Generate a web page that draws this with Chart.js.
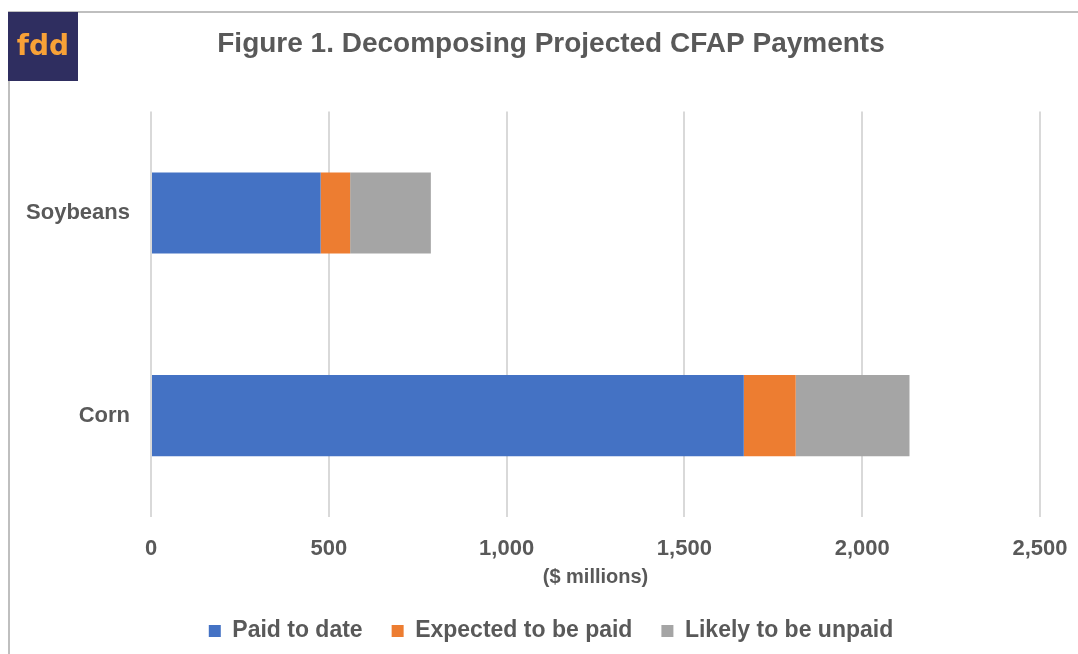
<!DOCTYPE html>
<html>
<head>
<meta charset="utf-8">
<script src="https://cdn.jsdelivr.net/npm/chart.js@4"></script>
<style>
  html, body { margin: 0; padding: 0; background: #ffffff; }
  #wrap { position: absolute; left: 0; top: 0; width: 1078px; height: 654px; }
</style>
</head>
<body>
<div id="wrap"><canvas id="c" width="1078" height="654"></canvas></div>
<script>
// ---- data ----
const categories = ["Soybeans", "Corn"];
const seriesNames = ["Paid to date", "Expected to be paid", "Likely to be unpaid"];
const paidToDate = [477, 1667];
const expectedToBePaid = [83, 146];
const likelyUnpaid = [227, 320];
const xTicks = [0, 500, 1000, 1500, 2000, 2500];
const titleText = "Figure 1. Decomposing Projected CFAP Payments";
const xAxisTitle = "($ millions)";
const logoText = "fdd";

const textColor = "#595959";
const fontFamily = "'Liberation Sans', Arial, sans-serif";

const framePlugin = {
  id: 'frame',
  afterDraw(chart) {
    const ctx = chart.ctx;
    ctx.save();
    ctx.strokeStyle = '#bfbfbf';
    ctx.lineWidth = 2;
    ctx.beginPath();
    ctx.moveTo(9, 654);
    ctx.lineTo(9, 12);
    ctx.lineTo(1078, 12);
    ctx.stroke();
    ctx.fillStyle = '#2f2e60';
    ctx.fillRect(8, 12, 70, 69);
    ctx.fillStyle = '#f8a137';
    ctx.font = "bold 28px 'DejaVu Sans', sans-serif";
    ctx.textAlign = 'center';
    ctx.textBaseline = 'middle';
    ctx.fillText(logoText, 43, 48);
    ctx.restore();
  }
};

new Chart(document.getElementById('c'), {
  type: 'bar',
  data: {
    labels: categories,
    datasets: [
      { label: seriesNames[0], data: paidToDate, backgroundColor: '#4472c4' },
      { label: seriesNames[1], data: expectedToBePaid, backgroundColor: '#ed7d31' },
      { label: seriesNames[2], data: likelyUnpaid, backgroundColor: '#a5a5a5' }
    ]
  },
  options: {
    indexAxis: 'y',
    responsive: false,
    animation: false,
    categoryPercentage: 0.8,
    barPercentage: 0.5,
    layout: { padding: { left: 24, right: 0, top: 0, bottom: 1.5 } },
    scales: {
      x: {
        stacked: true,
        min: 0,
        max: 2500,
        afterBuildTicks(scale) { scale.ticks = xTicks.map(v => ({ value: v })); },
        ticks: {
          color: textColor,
          font: { family: fontFamily, size: 22, weight: 'bold' },
          padding: 19,
          maxRotation: 0,
          callback: (v) => v.toLocaleString('en-US')
        },
        grid: { color: '#d9d9d9', lineWidth: 2, drawTicks: false },
        border: { display: false },
        title: {
          display: true,
          text: xAxisTitle,
          color: textColor,
          font: { family: fontFamily, size: 20, weight: 'bold' },
          padding: { top: 0, bottom: 1.5 }
        },
        afterFit(scale) { scale.height = 73.5; scale.paddingRight = 38; }
      },
      y: {
        stacked: true,
        ticks: {
          color: textColor,
          font: { family: fontFamily, size: 22, weight: 'bold' },
          padding: 13
        },
        grid: { display: false },
        border: { display: false },
        afterFit(scale) { scale.width = 127; }
      }
    },
    plugins: {
      title: {
        display: true,
        text: titleText,
        color: textColor,
        font: { family: fontFamily, size: 28, weight: 'bold' },
        padding: { top: 27, bottom: 51 }
      },
      legend: {
        position: 'bottom',
        labels: {
          color: textColor,
          font: { family: fontFamily, size: 23, weight: 'bold' },
          boxWidth: 12,
          boxHeight: 12,
          padding: 29
        }
      },
      tooltip: { enabled: false }
    }
  },
  plugins: [framePlugin]
});
</script>
</body>
</html>
